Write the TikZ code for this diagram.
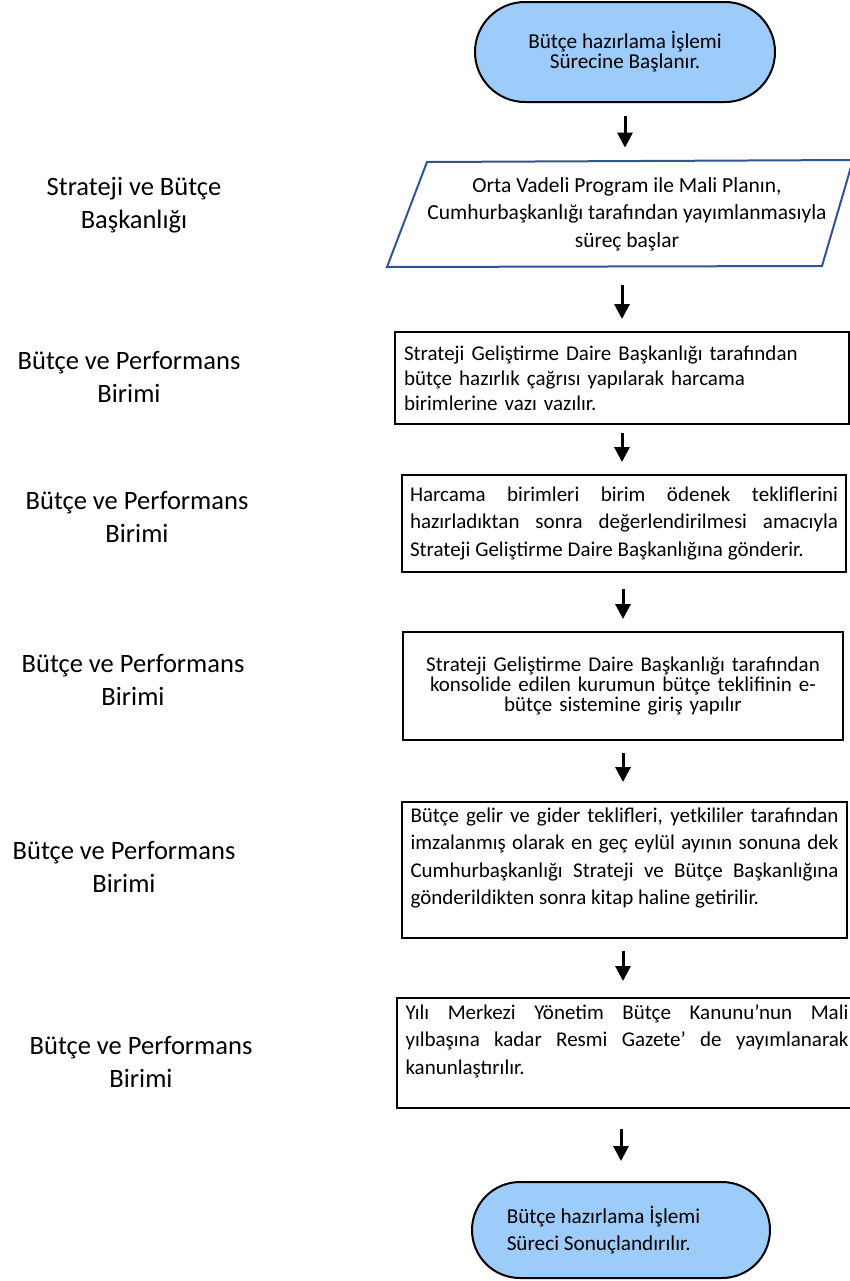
\documentclass[tikz,border=0pt]{standalone}
\usepackage{fontspec}
\setmainfont{Carlito}
\usetikzlibrary{arrows.meta,shapes.misc}
\definecolor{termfill}{RGB}{157,203,250}
\definecolor{parablue}{RGB}{47,85,151}
\begin{document}
\begin{tikzpicture}[x=0.5pt,y=-0.5pt,
  box/.style={draw=black,line width=1pt,rectangle,inner ysep=0pt,font=\fontsize{10.5}{13.75}\selectfont},
  term/.style={draw=black,line width=1pt,rounded rectangle,fill=termfill,inner sep=0pt,align=center},
  lbl/.style={align=center,font=\fontsize{13.25}{16.5}\selectfont},
  arr/.style={line width=1.5pt,-{Triangle[length=7.5pt,width=7.5pt]}}]
\useasboundingbox (0,0) rectangle (850,1281);

% start terminator
\node[term,minimum width=150pt,minimum height=50pt,font=\fontsize{10.6}{10}\selectfont] (s1) at (625,52)
  {Bütçe hazırlama İşlemi\\Sürecine Başlanır.};

% parallelogram
\coordinate (pTL) at (427,162);
\coordinate (pTR) at (853,160);
\coordinate (pBR) at (822,266);
\coordinate (pBL) at (387,267);
\draw[draw=parablue,line width=1pt] (pTL) -- (pTR) -- (pBR) -- (pBL) -- cycle;
\node[align=center,minimum height=53pt,inner sep=0pt,font=\fontsize{10.75}{13.75}\selectfont] (p2) at (627,214)
  {Orta Vadeli Program ile Mali Planın,\\Cumhurbaşkanlığı tarafından yayımlanmasıyla\\süreç başlar};

% box 3
\node[box,minimum width=227pt,minimum height=46pt,text width=218pt,inner xsep=4.5pt,align=left,font=\fontsize{10.5}{12.5}\selectfont] (b3) at (622,378)
  {Strateji Geliştirme Daire Başkanlığı tarafından\\bütçe hazırlık çağrısı  yapılarak harcama\\birimlerine vazı vazılır.};

% box 4
\node[box,minimum width=222pt,minimum height=48.5pt,text width=214pt,inner xsep=4pt,align=justify] (b4) at (624,523.5)
  {Harcama birimleri birim ödenek tekliflerini\linebreak
   hazırladıktan sonra değerlendirilmesi amacıyla\linebreak
   Strateji Geliştirme Daire Başkanlığına gönderir.};

% box 5
\node[box,minimum width=220pt,minimum height=54pt,text width=210pt,inner xsep=5pt,align=center,font=\fontsize{10.5}{10}\selectfont] (b5) at (623,686)
  {Strateji Geliştirme Daire Başkanlığı tarafından\\konsolide edilen kurumun bütçe teklifinin e-\\bütçe sistemine  giriş yapılır};

% box 6
\node[box,minimum width=222.5pt,minimum height=68pt,text width=214pt,inner xsep=4.25pt,align=justify] (b6) at (624.5,870)
  {Bütçe gelir ve gider teklifleri, yetkililer tarafından\linebreak
   imzalanmış olarak en geç eylül ayının sonuna dek\linebreak
   Cumhurbaşkanlığı Strateji ve Bütçe Başkanlığına\linebreak
   gönderildikten sonra kitap haline getirilir.\par \mbox{}};

% box 7
\node[box,minimum width=230pt,minimum height=55pt,text width=221.5pt,inner xsep=4.25pt,align=justify] (b7) at (627,1053)
  {Yılı Merkezi Yönetim Bütçe  Kanunu’nun Mali\linebreak
   yılbaşına kadar Resmi Gazete’ de yayımlanarak\linebreak
   kanunlaştırılır.\par \mbox{}};

% end terminator
\node[term,minimum width=149pt,minimum height=48pt,font=\fontsize{10.6}{13.5}\selectfont,align=left] (e1) at (621,1230)
  {Bütçe hazırlama İşlemi\hspace*{17.5pt}\\Süreci Sonuçlandırılır.};

% left labels
\node[lbl] (l1) at (134,205) {Strateji ve Bütçe\\Başkanlığı};
\node[lbl] (l2) at (129,376.5) {Bütçe ve Performans\\Birimi};
\node[lbl] (l3) at (137,517) {Bütçe ve Performans\\Birimi};
\node[lbl] (l4) at (133,679.5) {Bütçe ve Performans\\Birimi};
\node[lbl] (l5) at (124,866.5) {Bütçe ve Performans\\Birimi};
\node[lbl] (l6) at (141,1061.5) {Bütçe ve Performans\\Birimi};

% arrows
\draw[arr,shorten <=6.5pt,shorten >=6.5pt] (s1.south) -- (s1.south |- p2.north);
\draw[arr,shorten <=9pt,shorten >=6pt] (p2.south -| b3.north) -- (b3.north);
\draw[arr,shorten <=4pt,shorten >=6pt] (b3.south) -- (b3.south |- b4.north);
\draw[arr,shorten <=8pt,shorten >=6pt] (b4.south -| b5.north) -- (b5.north);
\draw[arr,shorten <=6pt,shorten >=9.5pt] (b5.south) -- (b5.south |- b6.north);
\draw[arr,shorten <=6pt,shorten >=8pt] (b6.south -| b5.south) -- (b5.south |- b7.north);
\draw[arr,shorten <=10pt,shorten >=10pt] (b7.south -| e1.north) -- (e1.north);
\end{tikzpicture}
\end{document}
